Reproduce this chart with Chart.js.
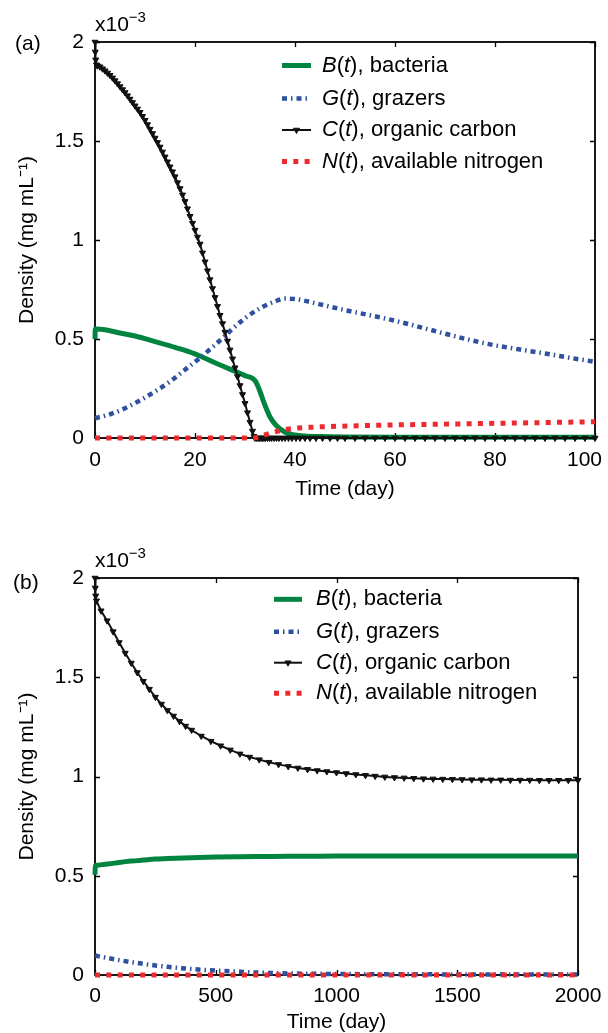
<!DOCTYPE html>
<html><head><meta charset="utf-8">
<script src="https://cdn.jsdelivr.net/npm/chart.js@4.4.0/dist/chart.umd.min.js"></script>
<style>
html,body{margin:0;padding:0;background:#fff;width:608px;height:1033px;overflow:hidden}
canvas{position:absolute;left:0;display:block}
#ca{top:0}
#cb{top:516px}
</style></head><body>
<canvas id="ca" width="608" height="516"></canvas>
<canvas id="cb" width="608" height="517"></canvas>
<script>
// ---------- DATA (density in units of 1e-3 mg/mL) ----------
const seriesNames = ['B(t), bacteria', 'G(t), grazers', 'C(t), organic carbon', 'N(t), available nitrogen'];
const yTicks = [0, 0.5, 1, 1.5, 2];
const xTicksA = [0, 20, 40, 60, 80, 100];
const xTicksB = [0, 500, 1000, 1500, 2000];

// Panel (a): 0-100 days
const tA_B = [0, 0.05, 2, 5, 8, 12, 16, 20, 24, 27, 30, 32, 33, 33.7, 34.4, 35, 36, 37, 38.3, 40, 42, 45, 50, 60, 70, 80, 90, 100];
const bacteriaA = [0.50, 0.55, 0.547, 0.53, 0.515, 0.487, 0.458, 0.425, 0.38, 0.348, 0.315, 0.29, 0.235, 0.185, 0.14, 0.106, 0.07, 0.047, 0.026, 0.015, 0.01, 0.007, 0.005, 0.004, 0.004, 0.004, 0.004, 0.004];

const tA_G = [0, 3, 6, 9, 12, 15, 18, 21, 24, 27, 30, 33, 36, 38, 40, 45, 50, 55, 60, 65, 70, 75, 80, 85, 90, 95, 100];
const grazersA = [0.10, 0.12, 0.15, 0.19, 0.235, 0.285, 0.345, 0.405, 0.47, 0.54, 0.605, 0.655, 0.69, 0.704, 0.702, 0.675, 0.646, 0.62, 0.592, 0.56, 0.527, 0.495, 0.468, 0.447, 0.427, 0.405, 0.385];

const tA_C = [0, 0.05, 0.15, 0.3, 0.5, 1, 1.5, 2, 2.5, 3, 3.5, 4, 4.5, 5, 5.5, 6, 6.5, 7, 7.5, 8, 8.5, 9, 9.5, 10, 10.5, 11, 11.5, 12, 12.5, 13, 13.5, 14, 14.5, 15, 15.5, 16, 16.5, 17, 17.5, 18, 18.5, 19, 19.5, 20, 20.5, 21, 21.5, 22, 22.5, 23, 23.5, 24, 24.5, 25, 25.5, 26, 26.5, 27, 27.5, 28, 28.5, 29, 29.5, 30, 30.5, 31, 31.5, 31.8,
  32, 32.3, 32.6, 32.9, 33.2, 33.5, 33.8, 34.1, 34.5, 34.9, 35.3, 35.8, 36.3, 36.8, 37.4, 38, 38.7, 39.4, 40.2, 41, 42, 43, 44.2, 45.5, 47, 48.5, 50, 52, 54, 56, 58, 60, 62, 64, 66, 68, 70, 72, 74, 76, 78, 80, 82, 84, 86, 88, 90, 92, 94, 96, 98, 100];
const carbonA = [2.00, 1.95, 1.91, 1.885, 1.88, 1.875, 1.865, 1.855, 1.844, 1.832, 1.819, 1.805, 1.79, 1.775, 1.76, 1.745, 1.729, 1.712, 1.695, 1.678, 1.662, 1.645, 1.625, 1.605, 1.583, 1.56, 1.538, 1.515, 1.493, 1.47, 1.445, 1.42, 1.395, 1.37, 1.345, 1.32, 1.29, 1.26, 1.228, 1.195, 1.158, 1.12, 1.085, 1.05, 1.015, 0.98, 0.935, 0.89, 0.845, 0.80, 0.755, 0.71, 0.665, 0.62, 0.578, 0.535, 0.49, 0.445, 0.40, 0.355, 0.31, 0.265, 0.22, 0.175, 0.128, 0.08, 0.035, 0.008,
  0, 0, 0, 0, 0, 0, 0, 0, 0, 0,
  0, 0, 0, 0, 0, 0, 0, 0, 0, 0,
  0, 0, 0, 0, 0, 0, 0, 0, 0, 0,
  0, 0, 0, 0, 0, 0, 0, 0, 0, 0,
  0, 0, 0, 0, 0, 0, 0, 0, 0, 0,
  0, 0];

const tA_N = [0, 10, 20, 30, 32, 33, 34, 35, 36.5, 38, 40, 43, 47, 53, 60, 67, 75, 85, 100];
const nitrogenA = [0, 0, 0, 0, 0.001, 0.008, 0.016, 0.024, 0.034, 0.042, 0.049, 0.054, 0.058, 0.062, 0.066, 0.069, 0.072, 0.076, 0.082];

// Panel (b): 0-2000 days
const tB_B = [0, 1, 10, 30, 60, 100, 150, 200, 250, 300, 400, 500, 600, 700, 800, 1000, 1200, 1500, 2000];
const bacteriaB = [0.505, 0.55, 0.553, 0.556, 0.56, 0.567, 0.574, 0.579, 0.584, 0.587, 0.591, 0.594, 0.596, 0.597, 0.598, 0.599, 0.60, 0.60, 0.60];

const tB_G = [0, 50, 100, 150, 200, 250, 300, 400, 500, 600, 700, 800, 1000, 1200, 1500, 2000];
const grazersB = [0.098, 0.086, 0.075, 0.065, 0.056, 0.048, 0.041, 0.03, 0.022, 0.016, 0.011, 0.008, 0.005, 0.004, 0.003, 0.003];

const tB_C = [0, 1, 3, 6, 25, 50, 75, 100, 125, 150, 175, 200, 225, 250, 275, 300, 325, 350, 375, 400, 440, 480, 520, 560, 600, 640, 680, 720, 760, 800, 840, 880, 920, 960, 1000, 1040, 1080, 1120, 1160, 1200, 1240, 1280, 1320, 1360, 1400, 1440, 1480, 1520, 1560, 1600, 1640, 1680, 1720, 1760, 1800, 1840, 1880, 1920, 1960, 2000];
const carbonB = [2.00, 1.95, 1.91, 1.885, 1.835, 1.785, 1.73, 1.675, 1.622, 1.572, 1.524, 1.48, 1.44, 1.40, 1.365, 1.333, 1.305, 1.278, 1.254, 1.234, 1.204, 1.178, 1.155, 1.134, 1.114, 1.098, 1.085, 1.072, 1.061, 1.051, 1.043, 1.036, 1.030, 1.025, 1.020, 1.015, 1.010, 1.006, 1.002, 0.998, 0.995, 0.993, 0.991, 0.989, 0.988, 0.987, 0.986, 0.985, 0.984, 0.984, 0.983, 0.983, 0.982, 0.982, 0.982, 0.981, 0.981, 0.981, 0.981, 0.981];

const tB_N = [0, 500, 1000, 1500, 2000];
const nitrogenB = [0, 0, 0, 0, 0];

// ---------- STYLE ----------
const FONT = "'Liberation Sans', Arial, Helvetica, sans-serif";
Chart.defaults.font.family = FONT;
Chart.defaults.color = '#000';
const COL = {B: '#00843f', G: '#2f4f9f', C: '#111111', N: '#ee2a2e'};

function pts(xs, ys) { return xs.map((x, i) => ({x: x, y: ys[i]})); }

function makeDatasets(tb, b, tg, g, tc, c, tn, n) {
  return [
    {label: seriesNames[0], data: pts(tb, b), borderColor: COL.B, borderWidth: 5, pointRadius: 0,
     cubicInterpolationMode: 'monotone', order: 4, clip: 10},
    {label: seriesNames[1], data: pts(tg, g), borderColor: COL.G, borderWidth: 4.5, borderDash: [5, 4, 1.5, 4],
     borderCapStyle: 'butt', pointRadius: 0, cubicInterpolationMode: 'monotone', order: 3, clip: 10},
    {label: seriesNames[2], data: pts(tc, c), borderColor: COL.C, borderWidth: 2, pointStyle: 'triangle',
     pointRotation: 180, pointRadius: 3.5, pointBackgroundColor: COL.C, pointBorderColor: COL.C, pointBorderWidth: 1,
     order: 2, clip: 10},
    {label: seriesNames[3], data: pts(tn, n), borderColor: COL.N, borderWidth: 5, borderDash: [5, 6.3],
     borderCapStyle: 'butt', pointRadius: 0, cubicInterpolationMode: 'monotone', order: 1, clip: 10}
  ];
}

function richParts(name) {
  // "B(t), bacteria" -> italic B, '(', italic t, rest
  return [[name[0], true], ['(', false], [name[2], true], [name.slice(3), false]];
}

const deco = {
  id: 'deco',
  beforeDatasetsDraw(chart, args, o) {
    const {ctx, chartArea: a, scales: {x, y}} = chart;
    ctx.save();
    ctx.strokeStyle = '#000';
    ctx.lineWidth = 1.3;
    const L = 5;
    ctx.beginPath();
    x.ticks.forEach(t => {
      const px = Math.round(x.getPixelForValue(t.value)) + 0.5;
      ctx.moveTo(px, a.bottom); ctx.lineTo(px, a.bottom - L);
      ctx.moveTo(px, a.top); ctx.lineTo(px, a.top + L);
    });
    y.ticks.forEach(t => {
      const py = Math.round(y.getPixelForValue(t.value)) + 0.5;
      ctx.moveTo(a.left, py); ctx.lineTo(a.left + L, py);
      ctx.moveTo(a.right, py); ctx.lineTo(a.right - L, py);
    });
    ctx.stroke();
    ctx.lineWidth = 1.8;
    ctx.strokeRect(a.left, a.top, a.right - a.left, a.bottom - a.top);
    ctx.restore();
  },
  afterDraw(chart, args, o) {
    const {ctx, chartArea: a} = chart;
    ctx.save();
    ctx.fillStyle = '#000';
    // panel label
    ctx.font = '21px ' + FONT;
    ctx.textBaseline = 'middle';
    ctx.textAlign = 'left';
    ctx.fillText(o.panel, o.panelX, o.panelY);
    // exponent
    ctx.textBaseline = 'alphabetic';
    ctx.font = '21px ' + FONT;
    const bx = a.left, by = a.top - 11;
    ctx.fillText('x10', bx, by);
    const w = ctx.measureText('x10').width;
    ctx.font = '15px ' + FONT;
    ctx.fillText('\u22123', bx + w, by - 9);
    // legend
    chart.data.datasets.forEach((ds, i) => {
      const yy = o.legYs[i];
      ctx.save();
      ctx.strokeStyle = ds.borderColor;
      ctx.lineWidth = ds.borderWidth;
      ctx.lineCap = 'butt';
      ctx.setLineDash(ds.borderDash || []);
      ctx.beginPath();
      ctx.moveTo(o.legX1, yy); ctx.lineTo(o.legX2, yy);
      ctx.stroke();
      ctx.setLineDash([]);
      if (ds.pointRadius > 0) {
        ctx.fillStyle = ds.pointBackgroundColor;
        ctx.strokeStyle = ds.pointBorderColor;
        ctx.lineWidth = 1;
        Chart.helpers.drawPoint(ctx, {pointStyle: 'triangle', radius: 3.5, rotation: 180, borderWidth: 1}, (o.legX1 + o.legX2) / 2, yy);
      }
      ctx.restore();
      ctx.textBaseline = 'middle';
      let cx = o.legTX;
      richParts(ds.label).forEach(([txt, it]) => {
        ctx.font = (it ? 'italic ' : '') + '22px ' + FONT;
        ctx.fillText(txt, cx, yy);
        cx += ctx.measureText(txt).width;
      });
    });
    ctx.restore();
  }
};

function makeChart(id, datasets, cfg) {
  return new Chart(document.getElementById(id), {
    type: 'line',
    data: {datasets: datasets},
    options: {
      responsive: false, animation: false, events: [],
      layout: {padding: {top: cfg.top, right: cfg.right, left: 0, bottom: 0}},
      plugins: {legend: {display: false}, tooltip: {enabled: false}, deco: cfg.deco},
      scales: {
        x: {
          type: 'linear', min: 0, max: cfg.xmax,
          afterBuildTicks: s => { s.ticks = cfg.xticks.map(v => ({value: v})); },
          afterFit: s => { s.height = cfg.xh; s.paddingLeft = 0; s.paddingRight = 0; },
          grid: {display: false, drawTicks: false, tickLength: 0}, border: {display: false},
          ticks: {padding: cfg.xtp, color: '#000', font: {size: 21}, maxRotation: 0, autoSkip: false,
                  callback: cfg.xcb},
          title: {display: true, text: 'Time (day)', color: '#000', font: {size: 21},
                  padding: {top: 0, bottom: cfg.xtb}}
        },
        y: {
          type: 'linear', min: 0, max: 2,
          afterBuildTicks: s => { s.ticks = yTicks.map(v => ({value: v})); },
          afterFit: s => { s.width = 95; s.paddingTop = 0; s.paddingBottom = 0; },
          grid: {display: false, drawTicks: false, tickLength: 0}, border: {display: false},
          ticks: {padding: 11, color: '#000', font: {size: 21}, callback: v => String(v)},
          title: {display: true, text: 'Density (mg mL\u207B\u00B9)', color: '#000', font: {size: 21},
                  padding: {top: 15, bottom: 0}}
        }
      }
    },
    plugins: [deco]
  });
}

makeChart('ca', makeDatasets(tA_B, bacteriaA, tA_G, grazersA, tA_C, carbonA, tA_N, nitrogenA), {
  top: 42, right: 13, xh: 78, xtb: 14, xtp: 10, xmax: 100, xticks: xTicksA,
  // last label nudged left so it stays inside the figure, as in the original
  xcb: v => (v === 100 ? '100\u2002\u2002' : String(v)),
  deco: {panel: '(a)', panelX: 15, panelY: 44, legX1: 282, legX2: 311, legTX: 322, legYs: [65.5, 98.5, 130, 161.5]}
});
makeChart('cb', makeDatasets(tB_B, bacteriaB, tB_G, grazersB, tB_C, carbonB, tB_N, nitrogenB), {
  top: 62, right: 30, xh: 58, xtb: -1.5, xtp: 9, xmax: 2000, xticks: xTicksB,
  xcb: v => String(v),
  deco: {panel: '(b)', panelX: 13, panelY: 67, legX1: 274, legX2: 302, legTX: 316, legYs: [83.3, 115.7, 146.7, 177.3]}
});
</script>
</body></html>
